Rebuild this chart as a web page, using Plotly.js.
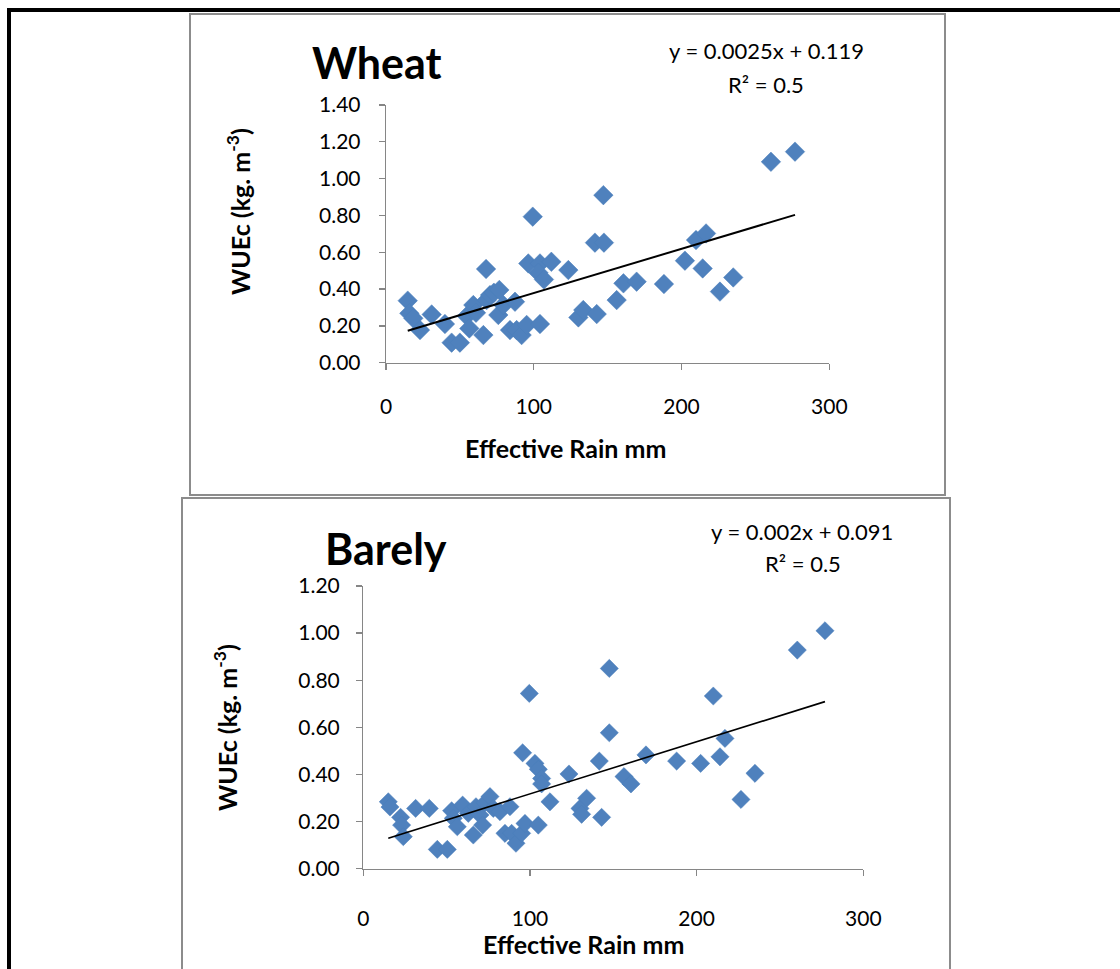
<!DOCTYPE html>
<html>
<head>
<meta charset="utf-8">
<script src="https://cdn.plot.ly/plotly-3.0.1.min.js"></script>
<style>
html,body{margin:0;padding:0;background:#fff;}
#chart{width:1120px;height:969px;}
</style>
</head>
<body>
<div id="chart"></div>
<script>
// ---- Data ----
const wheatRain = [14.7, 15.8, 18.5, 23, 30.9, 39.9, 44.4, 50, 54.6, 56.4, 59.1, 60.9, 65.9, 67.7, 68.1, 70.4, 73, 76, 76.7, 79.4, 83.9, 87.3, 88.4, 91.8, 96.3, 95.2, 99.3, 104.2, 104.2, 103.1, 106.9, 111.9, 123.4, 130.2, 133.5, 142.6, 141.4, 147.5, 147.1, 156.1, 160.7, 169.6, 188.1, 202.3, 209.8, 214.3, 216.6, 226, 235, 260.5, 276.8];
const wheatWUE = [0.337, 0.268, 0.241, 0.177, 0.262, 0.210, 0.109, 0.109, 0.253, 0.186, 0.313, 0.271, 0.150, 0.509, 0.340, 0.367, 0.380, 0.259, 0.395, 0.313, 0.177, 0.331, 0.177, 0.150, 0.539, 0.205, 0.793, 0.539, 0.210, 0.489, 0.452, 0.548, 0.503, 0.246, 0.286, 0.264, 0.652, 0.652, 0.910, 0.340, 0.431, 0.440, 0.427, 0.554, 0.666, 0.512, 0.702, 0.386, 0.463, 1.091, 1.146];

const barleyRain = [15, 16, 22.4, 23, 24, 31.4, 39.6, 44.4, 50.4, 53, 54, 56.4, 59.6, 63, 66, 67.6, 70, 71.6, 73, 76, 78, 82, 85, 88, 89, 91.6, 95, 97, 95.6, 99.6, 103, 105, 105, 107, 107, 112, 123.4, 130, 131, 134, 141.6, 143, 147.6, 147.6, 156.4, 160.6, 169.6, 188, 202.4, 210, 214, 217, 226.6, 235, 260.4, 277];
const barleyWUE = [0.284, 0.262, 0.218, 0.185, 0.136, 0.256, 0.256, 0.082, 0.082, 0.246, 0.214, 0.178, 0.270, 0.235, 0.143, 0.263, 0.228, 0.185, 0.280, 0.306, 0.256, 0.242, 0.150, 0.263, 0.150, 0.108, 0.150, 0.192, 0.492, 0.744, 0.447, 0.422, 0.185, 0.383, 0.360, 0.284, 0.402, 0.256, 0.231, 0.299, 0.457, 0.218, 0.850, 0.577, 0.391, 0.360, 0.483, 0.457, 0.447, 0.733, 0.475, 0.553, 0.294, 0.405, 0.928, 1.010];

const xTicks = [0, 100, 200, 300];
const wheatYTicks = [0, 0.2, 0.4, 0.6, 0.8, 1.0, 1.2, 1.4];
const barleyYTicks = [0, 0.2, 0.4, 0.6, 0.8, 1.0, 1.2];

const wheatTitle = "Wheat";
const barleyTitle = "Barely";
const wheatEq = "y = 0.0025x + 0.119";
const barleyEq = "y = 0.002x + 0.091";
const r2Text = "R² = 0.5";
const xTitle = "Effective Rain mm";
const yTitle = "WUEc (kg. m<sup>-3</sup>)";

// ---- helpers ----
const W = 1120, H = 969;
const px = x => x / W;
const py = y => 1 - y / H;

function linFit(xs, ys) {
  const n = xs.length;
  let sx = 0, sy = 0, sxx = 0, sxy = 0;
  for (let i = 0; i < n; i++) { sx += xs[i]; sy += ys[i]; sxx += xs[i]*xs[i]; sxy += xs[i]*ys[i]; }
  const b = (n*sxy - sx*sy) / (n*sxx - sx*sx);
  const a = (sy - b*sx) / n;
  const x0 = Math.min(...xs), x1 = Math.max(...xs);
  return {x: [x0, x1], y: [a + b*x0, a + b*x1]};
}

const blue = '#4F81BD';
const fontFam = 'Lato, "Open Sans", sans-serif';
const wFit = linFit(wheatRain, wheatWUE);
const bFit = linFit(barleyRain, barleyWUE);

const traces = [
  {x: wheatRain, y: wheatWUE, type: 'scatter', mode: 'markers', xaxis: 'x', yaxis: 'y',
   marker: {symbol: 'diamond', size: 15, color: blue, line: {width: 0.5, color: '#4A7EBB'}}},
  {x: wFit.x, y: wFit.y, type: 'scatter', mode: 'lines', xaxis: 'x', yaxis: 'y',
   line: {color: '#000', width: 2}},
  {x: barleyRain, y: barleyWUE, type: 'scatter', mode: 'markers', xaxis: 'x2', yaxis: 'y2',
   marker: {symbol: 'diamond', size: 14, color: blue, line: {width: 0.5, color: '#4A7EBB'}}},
  {x: bFit.x, y: bFit.y, type: 'scatter', mode: 'lines', xaxis: 'x2', yaxis: 'y2',
   line: {color: '#000', width: 1.6}}
];

const axisCommon = {
  showline: true, linecolor: '#868686', linewidth: 1.3,
  ticks: 'outside', ticklen: 6, tickcolor: '#868686', tickwidth: 1.3,
  showgrid: false, zeroline: false,
  tickfont: {family: fontFam, size: 21, color: '#000'},
  fixedrange: true
};

const layout = {
  width: W, height: H,
  margin: {l: 0, r: 0, t: 0, b: 0},
  paper_bgcolor: '#fff', plot_bgcolor: 'rgba(0,0,0,0)',
  showlegend: false,
  font: {family: fontFam, color: '#000'},
  xaxis: Object.assign({}, axisCommon, {
    domain: [px(386), px(829.3)], range: [0, 300], anchor: 'y',
    tickvals: xTicks, ticklabelstandoff: 19
  }),
  yaxis: Object.assign({}, axisCommon, {
    domain: [py(362.7), py(104.9)], range: [0, 1.4], anchor: 'x',
    tickvals: wheatYTicks, tickformat: '.2f', ticklabelstandoff: 14
  }),
  xaxis2: Object.assign({}, axisCommon, {
    domain: [px(363.3), px(863.3)], range: [0, 300], anchor: 'y2',
    tickvals: xTicks, ticklabelstandoff: 25
  }),
  yaxis2: Object.assign({}, axisCommon, {
    domain: [py(868.7), py(586)], range: [0, 1.2], anchor: 'x2',
    tickvals: barleyYTicks, tickformat: '.2f', ticklabelstandoff: 12
  }),
  shapes: [
    // outer black frame (top bar and left bar)
    {type: 'rect', xref: 'paper', yref: 'paper', x0: px(7), x1: px(1121), y0: py(12), y1: py(8),
     fillcolor: '#000', line: {width: 0}},
    {type: 'rect', xref: 'paper', yref: 'paper', x0: px(7), x1: px(11), y0: py(970), y1: py(8),
     fillcolor: '#000', line: {width: 0}},
    // chart boxes
    {type: 'rect', xref: 'paper', yref: 'paper', x0: px(190), x1: px(945), y0: py(495), y1: py(14),
     line: {color: '#8C8C8C', width: 2}, fillcolor: 'rgba(0,0,0,0)'},
    {type: 'rect', xref: 'paper', yref: 'paper', x0: px(182), x1: px(950), y0: py(975), y1: py(498),
     line: {color: '#8C8C8C', width: 2}, fillcolor: 'rgba(0,0,0,0)'}
  ],
  annotations: [
    {text: '<b>' + wheatTitle + '</b>', x: px(377), y: py(62), font: {size: 43}},
    {text: wheatEq, x: px(766), y: py(51), font: {size: 22}},
    {text: r2Text, x: px(766), y: py(84), font: {size: 22}},
    {text: '<b>' + xTitle + '</b>', x: px(565), y: py(448), font: {size: 25}},
    {text: '<b>' + yTitle + '</b>', x: px(239), y: py(212), textangle: -90, font: {size: 25}},

    {text: '<b>' + barleyTitle + '</b>', x: px(386), y: py(548), font: {size: 43}},
    {text: barleyEq, x: px(802), y: py(531), font: {size: 22}},
    {text: r2Text, x: px(803), y: py(563), font: {size: 22}},
    {text: '<b>' + xTitle + '</b>', x: px(583), y: py(944), font: {size: 25}},
    {text: '<b>' + yTitle + '</b>', x: px(225), y: py(728), textangle: -90, font: {size: 25}}
  ].map(a => Object.assign({xref: 'paper', yref: 'paper', showarrow: false,
                            xanchor: 'center', yanchor: 'middle'}, a,
                           {font: Object.assign({family: fontFam, color: '#000'}, a.font)}))
};

Plotly.newPlot('chart', traces, layout, {displayModeBar: false, staticPlot: true});
</script>
</body>
</html>
